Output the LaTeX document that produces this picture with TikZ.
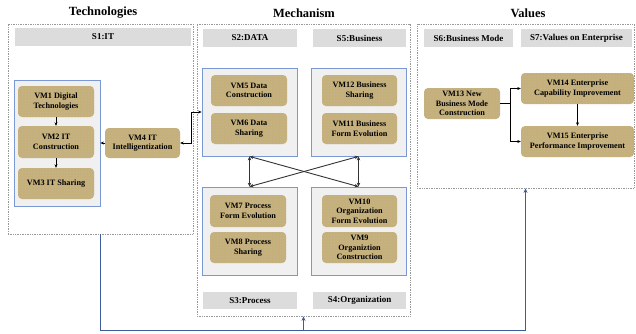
\documentclass[tikz,border=0pt]{standalone}
\usepackage{fontspec}
\setmainfont{Liberation Serif}
\usetikzlibrary{arrows.meta,calc,patterns}
\definecolor{tan}{HTML}{C6B07A}
\definecolor{tandark}{HTML}{9C8650}
\definecolor{grpblue}{HTML}{7A98D4}
\definecolor{fbblue}{HTML}{3D5C9E}
\definecolor{hdrgray}{HTML}{DCDCDC}
\definecolor{grpfill}{HTML}{F0F0F0}
\tikzset{
  panel/.style={draw=gray!80, densely dotted, line width=0.7pt, minimum width=#1},
  hdr/.style={fill=hdrgray, font=\bfseries\fontsize{9}{10}\selectfont, inner sep=0pt, minimum height=18pt},
  grp/.style={draw=grpblue, fill=grpfill, line width=0.8pt, inner sep=0pt},
  vm/.style={fill=tan, rounded corners=4pt, font=\bfseries\fontsize{8.2}{9.6}\selectfont, align=center, inner sep=0pt, minimum height=31pt,
    postaction={pattern=crosshatch dots, pattern color=tandark!60, rounded corners=4pt}},
  ttl/.style={font=\bfseries\fontsize{12.5}{14}\selectfont},
  arr/.style={-{Stealth[length=3.5pt,width=3pt]}, line width=0.5pt, black},
  darr/.style={{Stealth[length=4pt,width=3.5pt]}-{Stealth[length=4pt,width=3.5pt]}, line width=0.9pt, black!80},
  fb/.style={draw=fbblue, line width=1pt}
}
\begin{document}
\begin{tikzpicture}[x=1pt,y=-1pt]
\useasboundingbox (0,0) rectangle (636,333);

% column titles
\node[ttl] (t1) at (103,13) {Technologies};
\node[ttl] (t2) at (304,13) {Mechanism};
\node[ttl] (t3) at (528,13) {Values};

% dotted panels
\node[panel=185pt, minimum height=210pt, inner sep=0pt] (panL) at (100.5,129) {};
\node[panel=213pt, minimum height=292pt, inner sep=0pt] (panM) at (303.5,170) {};
\node[panel=217pt, minimum height=164pt, inner sep=0pt] (panR) at (525.5,106) {};

% section headers
\node[hdr, minimum width=176pt] (s1) at (103,37) {S1:IT};
\node[hdr, minimum width=94pt] (s2) at (250,38) {S2:DATA};
\node[hdr, minimum width=93pt] (s5) at (359.5,38) {S5:Business};
\node[hdr, minimum width=94pt, minimum height=17pt] (s3) at (250,300.5) {S3:Process};
\node[hdr, minimum width=93pt, minimum height=17pt] (s4) at (359.5,300.5) {S4:Organization};
\node[hdr, minimum width=89pt] (s6) at (468.5,38) {S6:Business Mode};
\node[hdr, minimum width=111pt] (s7) at (576.5,38) {S7:Values on Enterprise};

% blue groups
\node[grp, minimum width=86pt, minimum height=126pt] (gL) at (57,143) {};
\node[grp, minimum width=95pt, minimum height=88pt] (g2) at (249.5,112) {};
\node[grp, minimum width=95pt, minimum height=88pt] (g5) at (358.5,112) {};
\node[grp, minimum width=95pt, minimum height=88pt] (g3) at (249.5,231) {};
\node[grp, minimum width=95pt, minimum height=88pt] (g4) at (358.5,231) {};

% value-mechanism nodes
\node[vm, minimum width=76pt] (vm1) at (56,101.5) {VM1 Digital\\Technologies};
\node[vm, minimum width=76pt, minimum height=32pt] (vm2) at (56,142) {VM2 IT\\Construction};
\node[vm, minimum width=76pt] (vm3) at (56,183.5) {VM3 IT Sharing};
\node[vm, minimum width=75pt, minimum height=30pt] (vm4) at (142.5,143) {VM4 IT\\Intelligentization};

\node[vm, minimum width=76pt] (vm5) at (249,90.5) {VM5 Data\\Construction};
\node[vm, minimum width=76pt] (vm6) at (249,128.5) {VM6 Data\\Sharing};
\node[vm, minimum width=75pt] (vm12) at (359.5,90.5) {VM12 Business\\Sharing};
\node[vm, minimum width=75pt] (vm11) at (359.5,128.5) {VM11 Business\\Form Evolution};

\node[vm, minimum width=76pt, minimum height=32pt] (vm7) at (248,211) {VM7 Process\\Form Evolution};
\node[vm, minimum width=76pt] (vm8) at (248,247.5) {VM8 Process\\Sharing};
\node[vm, minimum width=75pt, minimum height=32pt] (vm10) at (359.5,211) {VM10\\Organization\\Form Evolution};
\node[vm, minimum width=75pt] (vm9) at (359.5,247.5) {VM9\\Organiztion\\Construction};

\node[vm, minimum width=76pt] (vm13) at (462,103.5) {VM13 New\\Business Mode\\Construction};
\node[vm, minimum width=113pt] (vm14) at (577.5,88.5) {VM14 Enterprise\\Capability Improvement};
\node[vm, minimum width=113pt] (vm15) at (577.5,141.5) {VM15 Enterprise\\Performance Improvement};

% technology connectors
\draw[arr] (vm1.south) -- (vm2.north);
\draw[arr] (vm2.south) -- (vm3.north);
\draw[arr] (vm4.west) -- (gL.east);
\draw[arr, {Stealth[length=3.5pt,width=3pt]}-{Stealth[length=3.5pt,width=3pt]}] (vm4.east) -- ++(11,0) |- (g2.west);

% mechanism interconnections
\draw[darr] (g2.south) -- (g3.north);
\draw[darr] (g5.south) -- (g4.north);
\draw[darr] (g2.south) -- (g4.north);
\draw[darr] (g5.south) -- (g3.north);

% value connectors
\draw[line width=0.5pt] (vm13.east) -- ++(10,0) coordinate (fork);
\draw[arr] (fork) |- (vm14.west);
\draw[arr] (fork) |- (vm15.west);
\draw[arr] (vm14.south) -- (vm15.north);

% feedback loop
\coordinate (fbl) at (101,330);
\draw[fb, -{Stealth[length=4.5pt,width=4pt]}] (panL.south) -- (panL.south |- fbl) -| (panR.south);
\draw[fb, -{Stealth[length=4.5pt,width=4pt]}] (panM.south |- fbl) -- (panM.south);
\end{tikzpicture}
\end{document}
